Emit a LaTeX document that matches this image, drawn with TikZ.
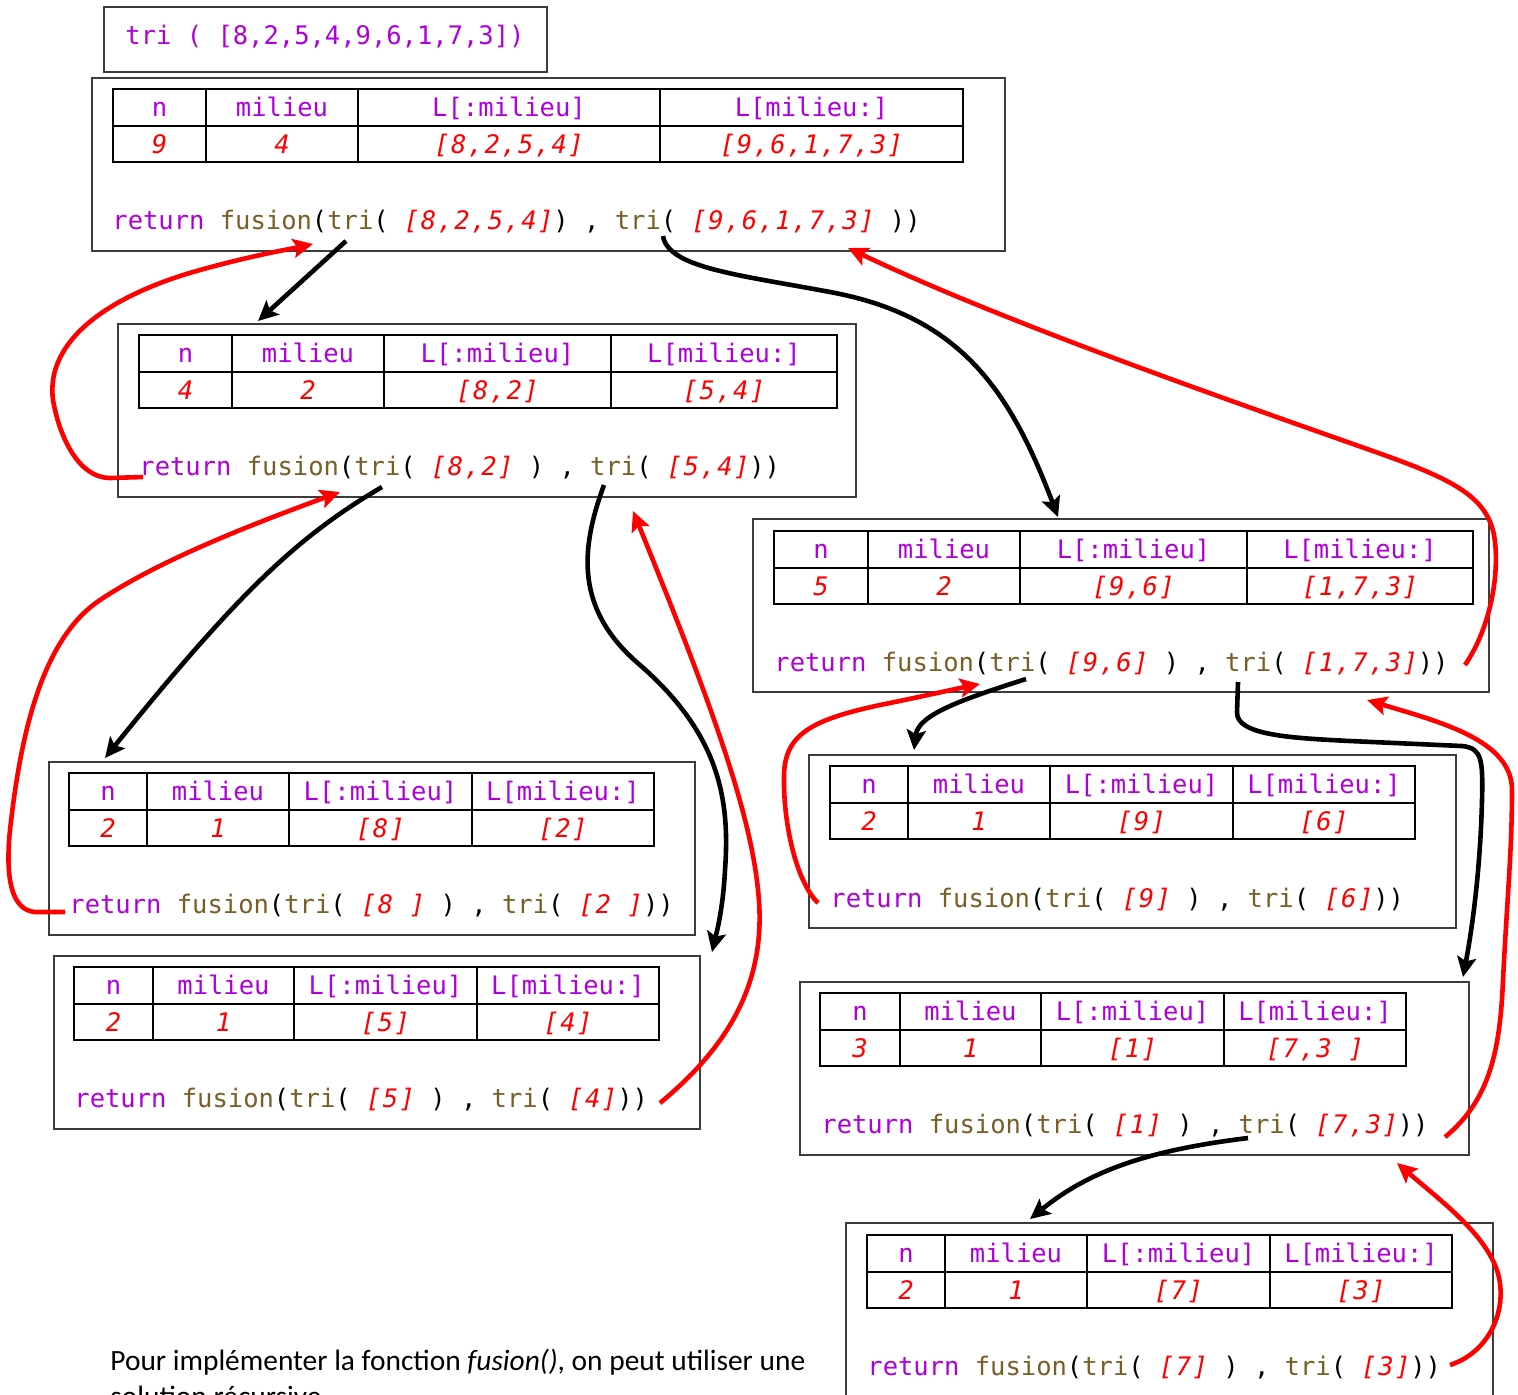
\documentclass[tikz,border=0pt]{standalone}
\usepackage{fontspec}
\usetikzlibrary{arrows.meta}

\newfontfamily\codefont{DejaVu Sans Mono}
\newfontfamily\listfont{DejaVu Sans Mono}[LetterSpace=5.5]
\newfontfamily\bodyfont{Carlito}

\definecolor{kw}{RGB}{175,0,219}
\definecolor{fn}{RGB}{121,94,38}
\definecolor{lst}{RGB}{255,0,0}
\definecolor{framegray}{RGB}{60,60,60}

\newcommand\Kw[1]{\textcolor{kw}{#1}}
\newcommand\Fn[1]{\textcolor{fn}{#1}}
\newcommand\Lst[1]{{\color{lst}\listfont\itshape #1}}

% column borders x0..x4 and top y of the next table
\def\settbl(#1,#2,#3,#4,#5,#6){\def\ca{#1}\def\cb{#2}\def\cc{#3}\def\cd{#4}\def\ce{#5}\def\rt{#6}}
% one call table: name, n, milieu, L[:milieu], L[milieu:]
\newcommand\calltable[5]{%
  \draw[grid] (\ca,\rt) rectangle (\ce,\rt+73);
  \draw[grid] (\ca,\rt+37) -- (\ce,\rt+37);
  \draw[grid] (\cb,\rt) -- (\cb,\rt+73);
  \draw[grid] (\cc,\rt) -- (\cc,\rt+73);
  \draw[grid] (\cd,\rt) -- (\cd,\rt+73);
  \node[code,text=kw] (#1-hn) at ({(\ca+\cb)/2},\rt+18.5) {n};
  \node[code,text=kw] (#1-hm) at ({(\cb+\cc)/2},\rt+18.5) {milieu};
  \node[code,text=kw] (#1-hl) at ({(\cc+\cd)/2},\rt+18.5) {L[:milieu]};
  \node[code,text=kw] (#1-hr) at ({(\cd+\ce)/2},\rt+18.5) {L[milieu:]};
  \node[code] (#1-n) at ({(\ca+\cb)/2},\rt+55.5) {\Lst{#2}};
  \node[code] (#1-m) at ({(\cb+\cc)/2},\rt+55.5) {\Lst{#3}};
  \node[code] (#1-l) at ({(\cc+\cd)/2},\rt+55.5) {\Lst{#4}};
  \node[code] (#1-r) at ({(\cd+\ce)/2},\rt+55.5) {\Lst{#5}};
}

\tikzset{
  code/.style={font=\codefont\fontsize{12.75}{15}\selectfont, inner sep=0pt,
               text height=11.8pt, text depth=3pt},
  retline/.style={code, anchor=west},
  frame/.style={draw=framegray, line width=0.7pt},
  grid/.style={draw=black, line width=1.2pt},
  call/.style={color=black, line width=2.3pt,
               -{Stealth[length=10pt,width=9.5pt,inset=2pt]}},
  back/.style={call, color=red},
  body/.style={font=\bodyfont\fontsize{14.7}{18}\selectfont, inner sep=0pt}
}

\begin{document}
\begin{tikzpicture}[x=0.5pt,y=-0.5pt]
\useasboundingbox (0,0) rectangle (1518,1394);
\fill[white] (0,0) rectangle (1518,1394);

% initial call
\draw[frame] (104,7) rectangle (547,72);
\node[retline] (call0) at (125,36) {\Kw{tri ( [8,2,5,4,9,6,1,7,3])}};

% level 0
\draw[frame] (92,78) rectangle (1005,251);
\settbl(113,206,358,660,963,89)
\calltable{A}{9}{4}{[8,2,5,4]}{[9,6,1,7,3]}
\node[retline] (A-ret) at (112,221) {\Kw{return} \Fn{fusion}(\Fn{tri}( \Lst{[8,2,5,4]}) , \Fn{tri}( \Lst{[9,6,1,7,3]} ))};

% level 1, left half
\draw[frame] (118,324) rectangle (856,497);
\settbl(139,232,384,611,837,335)
\calltable{B}{4}{2}{[8,2]}{[5,4]}
\node[retline] (B-ret) at (139,467) {\Kw{return} \Fn{fusion}(\Fn{tri}( \Lst{[8,2]} ) , \Fn{tri}( \Lst{[5,4]}))};

% level 1, right half
\draw[frame] (753,519) rectangle (1489,692);
\settbl(774,868,1020,1247,1473,531)
\calltable{C}{5}{2}{[9,6]}{[1,7,3]}
\node[retline] (C-ret) at (774,663) {\Kw{return} \Fn{fusion}(\Fn{tri}( \Lst{[9,6]} ) , \Fn{tri}( \Lst{[1,7,3]}))};

% level 2
\draw[frame] (49,762) rectangle (695,935);
\settbl(69,147,289,472,654,773)
\calltable{D}{2}{1}{[8]}{[2]}
\node[retline] (D-ret) at (69,905) {\Kw{return} \Fn{fusion}(\Fn{tri}( \Lst{[8 ]} ) , \Fn{tri}( \Lst{[2 ]}))};

\draw[frame] (54,956) rectangle (700,1129);
\settbl(74,153,294,477,659,967)
\calltable{E}{2}{1}{[5]}{[4]}
\node[retline] (E-ret) at (74,1099) {\Kw{return} \Fn{fusion}(\Fn{tri}( \Lst{[5]} ) , \Fn{tri}( \Lst{[4]}))};

\draw[frame] (809,755) rectangle (1456,928);
\settbl(830,908,1050,1233,1415,766)
\calltable{F}{2}{1}{[9]}{[6]}
\node[retline] (F-ret) at (830,899) {\Kw{return} \Fn{fusion}(\Fn{tri}( \Lst{[9]} ) , \Fn{tri}( \Lst{[6]}))};

\draw[frame] (800,982) rectangle (1469,1155);
\settbl(820,900,1041,1224,1406,993)
\calltable{G}{3}{1}{[1]}{[7,3 ]}
\node[retline] (G-ret) at (821,1125) {\Kw{return} \Fn{fusion}(\Fn{tri}( \Lst{[1]} ) , \Fn{tri}( \Lst{[7,3]}))};

% level 3
\draw[frame] (846,1223) rectangle (1493,1420);
\settbl(867,945,1087,1270,1452,1235)
\calltable{H}{2}{1}{[7]}{[3]}
\node[retline] (H-ret) at (867,1367) {\Kw{return} \Fn{fusion}(\Fn{tri}( \Lst{[7]} ) , \Fn{tri}( \Lst{[3]}))};

% closing remark
\node[body, anchor=base west] (note1) at (110,1370) {Pour implémenter la fonction \textit{fusion()}, on peut utiliser une};
\node[body, anchor=base west] (note2) at (110,1406) {solution récursive.};

% end points of the connectors
\coordinate (A-first) at (346,241);
\coordinate (A-second) at (663,236);
\coordinate (A-fusion) at (313,244);
\coordinate (A-right) at (848,248);
\coordinate (B-top) at (258,321);
\coordinate (B-start) at (143,477);
\coordinate (B-first) at (382,487);
\coordinate (B-second) at (604,485);
\coordinate (B-fusion) at (340,492);
\coordinate (B-right) at (633,511);
\coordinate (C-top) at (1058,517);
\coordinate (C-first) at (1026,679);
\coordinate (C-second) at (1238,682);
\coordinate (C-end) at (1465,665);
\coordinate (C-fusion) at (980,684);
\coordinate (C-right) at (1367,700);
\coordinate (D-top) at (105,758);
\coordinate (D-start) at (65,912);
\coordinate (E-top) at (712,952);
\coordinate (E-end) at (660,1103);
\coordinate (F-top) at (914,750);
\coordinate (F-start) at (818,903);
\coordinate (G-top) at (1463,977);
\coordinate (G-second) at (1248,1138);
\coordinate (G-end) at (1445,1137);
\coordinate (G-right) at (1397,1163);
\coordinate (H-top) at (1030,1219);
\coordinate (H-end) at (1450,1365);

% recursive calls
\draw[call] (A-first) -- (B-top);
\draw[call] (A-second) .. controls (668,268) and (740,275) .. (830,292)
  .. controls (960,316) and (1010,390) .. (C-top);
\draw[call] (B-first) .. controls (300,535) and (240,590) .. (D-top);
\draw[call] (B-second) .. controls (580,550) and (575,610) .. (640,665)
  .. controls (720,735) and (730,800) .. (725,870)
  .. controls (723,910) and (716,935) .. (E-top);
\draw[call] (C-first) .. controls (960,700) and (918,715) .. (F-top);
\draw[call] (C-second) -- (1237,712) .. controls (1236,735) and (1290,738) .. (1350,741)
  -- (1462,746) .. controls (1482,748) and (1483,760) .. (1482,800)
  .. controls (1480,880) and (1470,940) .. (G-top);
\draw[call] (G-second) .. controls (1150,1150) and (1090,1170) .. (H-top);

% returned values
\draw[back] (B-start) -- (110,478) .. controls (80,478) and (60,440) .. (53,400)
  .. controls (45,340) and (110,295) .. (200,270)
  .. controls (250,256) and (290,249) .. (A-fusion);
\draw[back] (C-end) .. controls (1492,625) and (1500,570) .. (1494,535)
  .. controls (1486,495) and (1450,478) .. (1370,450)
  .. controls (1200,390) and (1000,320) .. (A-right);
\draw[back] (D-start) -- (35,912) .. controls (12,910) and (5,880) .. (10,830)
  .. controls (20,740) and (40,640) .. (100,600)
  .. controls (160,560) and (250,525) .. (B-fusion);
\draw[back] (E-end) .. controls (730,1045) and (768,980) .. (758,890)
  .. controls (750,810) and (710,700) .. (B-right);
\draw[back] (F-start) .. controls (795,880) and (783,820) .. (784,775)
  .. controls (785,735) and (810,720) .. (880,705)
  .. controls (920,697) and (950,690) .. (C-fusion);
\draw[back] (G-end) .. controls (1490,1100) and (1500,1050) .. (1503,980)
  .. controls (1507,900) and (1512,850) .. (1512,790)
  .. controls (1512,740) and (1440,722) .. (C-right);
\draw[back] (H-end) .. controls (1495,1350) and (1510,1300) .. (1495,1265)
  .. controls (1480,1230) and (1440,1200) .. (G-right);
\end{tikzpicture}
\end{document}
